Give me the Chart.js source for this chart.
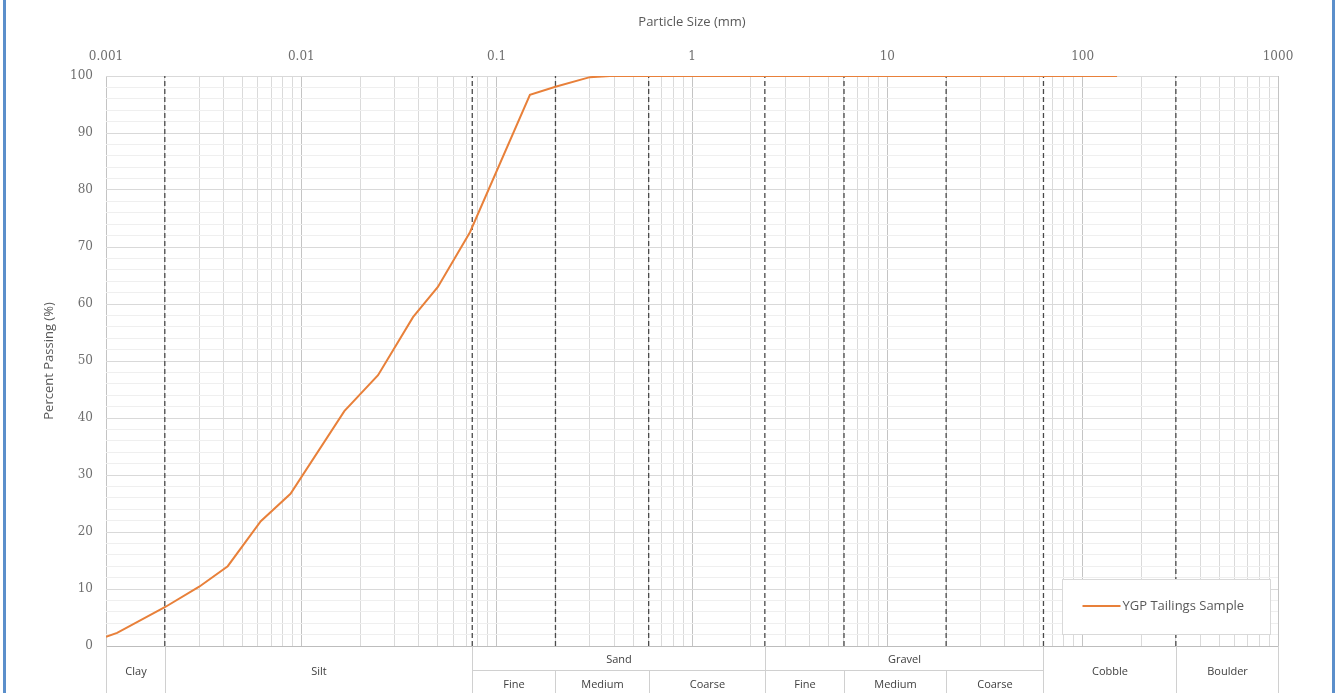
<!DOCTYPE html>
<html>
<head>
<meta charset="utf-8">
<title>Particle Size Distribution</title>
<script src="https://cdn.jsdelivr.net/npm/chart.js@4.4.0/dist/chart.umd.min.js"></script>
<style>
  html, body { margin: 0; padding: 0; background: #fff; }
  #wrap { position: relative; width: 1335px; height: 693px; overflow: hidden; }
  #wrap::before, #wrap::after {
    content: ""; position: absolute; top: 0; width: 3px; height: 693px; background: #5b8fcb;
  }
  #wrap::before { left: 3px; }
  #wrap::after { left: 1332px; }
  #chart { position: absolute; left: 0; top: 0; }
</style>
</head>
<body>
<div id="wrap"><canvas id="chart" width="1335" height="693"></canvas></div>
<script>
  // ======= Data =======
  const sizeMm         = [0.001, 0.00114, 0.002, 0.003, 0.0042, 0.0062, 0.0088, 0.0166, 0.0247, 0.0373, 0.05, 0.073, 0.148, 0.2, 0.3, 0.38, 150];
  const percentPassing = [1.6,   2.3,     6.8,   10.4,  14.0,   21.9,   26.7,   41.2,   47.5,   57.7,   63.0, 72.6,  96.7,  98.1, 99.8, 100, 100];
  const seriesName = "YGP Tailings Sample";

  // class boundaries (dashed lines) in mm
  const boundaryMm = [0.002, 0.075, 0.2, 0.6, 2.36, 6, 20, 63, 300];

  // decade tick labels on the size axis
  const decadeTicks = [0.001, 0.01, 0.1, 1, 10, 100, 1000];

  // classification table under the chart
  const mainClassLabels = ["Clay", "Silt", "Sand", "Gravel", "Cobble", "Boulder"];
  const mainClassEdges  = [0.001, 0.002, 0.075, 2.36, 63, 300, 1000];
  const splitClasses    = ["Sand", "Gravel"];
  const subClassLabels  = ["Fine", "Medium", "Coarse", "Fine", "Medium", "Coarse"];
  const subClassEdges   = [0.075, 0.2, 0.6, 2.36, 6, 20, 63];

  // ======= Styles =======
  const LINE_COLOR = "#e8803a";
  const TEXT_COLOR = "#595959";
  const TICK_FONT  = { family: "DejaVu Serif", size: 12 };
  const SANS       = "Open Sans";

  const isDecade = v => decadeTicks.some(d => Math.abs(Math.log10(v) - Math.log10(d)) < 1e-6);

  // Table + legend drawn after the chart, positioned from the x scale
  const soilTable = {
    id: "soilTable",
    afterDraw(chart) {
      const { ctx, chartArea, scales: { x } } = chart;
      const top = chartArea.bottom, bottom = chart.height;
      const px = v => Math.round(x.getPixelForValue(v)) + 0.5;
      const splitY = top + 24.5;
      const line = (x0, y0, x1, y1) => { ctx.beginPath(); ctx.moveTo(x0, y0); ctx.lineTo(x1, y1); ctx.stroke(); };

      ctx.save();
      ctx.strokeStyle = "#d0d0d0";
      ctx.lineWidth = 1;
      mainClassEdges.forEach(e => line(px(e), top, px(e), bottom));
      line(px(subClassEdges[0]), splitY, px(subClassEdges[subClassEdges.length - 1]), splitY);
      subClassEdges.forEach(e => line(px(e), splitY, px(e), bottom));

      ctx.fillStyle = "#404040";
      ctx.font = `11px "${SANS}"`;
      ctx.textAlign = "center";
      ctx.textBaseline = "middle";
      mainClassLabels.forEach((lab, i) => {
        const cx = (px(mainClassEdges[i]) + px(mainClassEdges[i + 1])) / 2;
        ctx.fillText(lab, cx, splitClasses.includes(lab) ? top + 14 : top + 26);
      });
      subClassLabels.forEach((lab, i) => {
        const cx = (px(subClassEdges[i]) + px(subClassEdges[i + 1])) / 2;
        ctx.fillText(lab, cx, top + 39);
      });

      // legend box
      const ds = chart.data.datasets[0];
      const bx = 1062.5, by = 579.5, bw = 208, bh = 55;
      ctx.fillStyle = "#fff";
      ctx.fillRect(bx, by, bw, bh);
      ctx.strokeStyle = "#d9d9d9";
      ctx.strokeRect(bx, by, bw, bh);
      ctx.strokeStyle = ds.borderColor;
      ctx.lineWidth = 2;
      line(bx + 20, by + 26.5, bx + 58, by + 26.5);
      ctx.fillStyle = TEXT_COLOR;
      ctx.font = `13px "${SANS}"`;
      ctx.textAlign = "left";
      ctx.fillText(ds.label, bx + 60, by + 27);
      ctx.restore();
    }
  };

  const datasets = [{
    label: seriesName,
    data: sizeMm.map((s, i) => ({ x: s, y: percentPassing[i] })),
    showLine: true,
    borderColor: LINE_COLOR,
    backgroundColor: LINE_COLOR,
    borderWidth: 2,
    pointRadius: 0,
    tension: 0
  }].concat(boundaryMm.map(b => ({
    label: "boundary " + b,
    data: [{ x: b, y: 0 }, { x: b, y: 100 }],
    showLine: true,
    borderColor: "#4a4a4a",
    borderWidth: 1.3,
    borderDash: [5, 3],
    pointRadius: 0
  })));

  new Chart(document.getElementById("chart"), {
    type: "scatter",
    data: { datasets },
    plugins: [soilTable],
    options: {
      responsive: false,
      animation: false,
      events: [],
      layout: { padding: { left: 0, right: 57, top: 0, bottom: 47 } },
      plugins: { legend: { display: false }, tooltip: { enabled: false } },
      scales: {
        x: {
          type: "logarithmic",
          position: "top",
          min: 0.001,
          max: 1000,
          afterBuildTicks(scale) {
            const t = [];
            decadeTicks.forEach((d, i) => {
              if (i === decadeTicks.length - 1) { t.push({ value: d }); return; }
              for (let m = 1; m < 10; m++) t.push({ value: +(d * m).toPrecision(3) });
            });
            scale.ticks = t;
          },
          afterFit(scale) { scale.height = 76; },
          ticks: {
            autoSkip: false, maxRotation: 0, padding: 12,
            color: "#6f6f6f", font: TICK_FONT,
            callback: v => isDecade(v) ? String(v) : ""
          },
          grid: {
            drawTicks: false,
            color: c => isDecade(c.tick.value) ? "#c4c4c4" : "#dadada"
          },
          border: { display: false },
          title: {
            display: true, text: "Particle Size (mm)", color: TEXT_COLOR,
            font: { family: SANS, size: 13 }, padding: { top: 14, bottom: 0 }
          }
        },
        y: {
          min: 0,
          max: 100,
          afterFit(scale) { scale.width = 106; },
          ticks: {
            stepSize: 2, autoSkip: false, padding: 13,
            color: "#6f6f6f", font: TICK_FONT,
            callback: v => v % 10 === 0 ? v : ""
          },
          grid: {
            drawTicks: false,
            color: c => c.tick.value === 0 ? "#bdbdbd" : (c.tick.value % 10 === 0 ? "#d9d9d9" : "#efefef")
          },
          border: { display: false },
          title: {
            display: true, text: "Percent Passing (%)", color: TEXT_COLOR,
            font: { family: SANS, size: 13 }, padding: { top: 41, bottom: 0 }
          }
        }
      }
    }
  });
</script>
</body>
</html>
